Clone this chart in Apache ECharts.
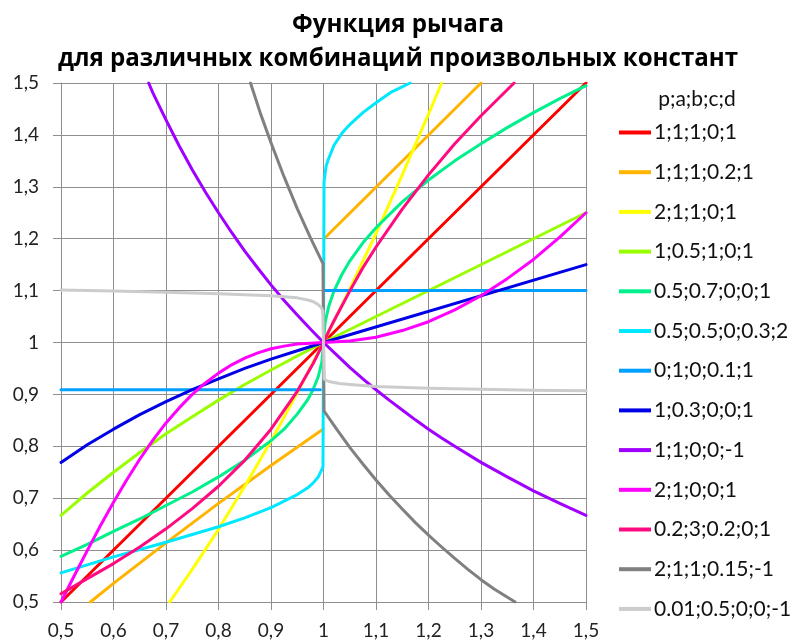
<!DOCTYPE html>
<html><head><meta charset="utf-8">
<script src="https://cdn.jsdelivr.net/npm/echarts@6/dist/echarts.min.js"></script>
<style>html,body{margin:0;padding:0;background:#fff}#c{width:796px;height:644px}</style>
</head><body><div id="c"></div>
<script>
const titleText = 'Функция рычага\nдля различных комбинаций произвольных констант';
const legendTitle = 'p;a;b;c;d';
const axisMin = 0.5, axisMax = 1.5, axisStep = 0.1;

const seriesNames = ['1;1;1;0;1','1;1;1;0.2;1','2;1;1;0;1','1;0.5;1;0;1','0.5;0.7;0;0;1','0.5;0.5;0;0.3;2','0;1;0;0.1;1','1;0.3;0;0;1','1;1;0;0;-1','2;1;0;0;1','0.2;3;0.2;0;1','2;1;1;0.15;-1','0.01;0.5;0;0;-1'];
const seriesColors = ['#FF0000','#FFB400','#FFFF00','#99FF00','#00F08C','#00E8FF','#00A0FF','#0000E6','#A000FF','#FF00FF','#FF0A80','#808080','#CCCCCC'];

const red = [[0.5,0.5],[1,1],[1.5,1.5]];
const orange = [[0.556,0.5],[0.6,0.536],[0.7,0.614],[0.8,0.69],[0.9,0.763],[0.999,0.833],[1,null],[1.001,1.2],[1.3,1.5]];
const yellow = [[0.707,0.5],[0.75,0.563],[0.8,0.64],[0.85,0.723],[0.9,0.81],[0.95,0.903],[1,1],[1.05,1.103],[1.1,1.21],[1.15,1.323],[1.2,1.44],[1.225,1.5]];
const lime = [[0.5,0.667],[0.55,0.71],[0.6,0.75],[0.65,0.788],[0.7,0.824],[0.75,0.857],[0.8,0.889],[0.85,0.919],[0.9,0.947],[0.95,0.974],[1,1],[1.5,1.25]];
const spring = [[0.5,0.588],[0.55,0.611],[0.6,0.636],[0.65,0.66],[0.7,0.686],[0.75,0.712],[0.8,0.741],[0.85,0.773],[0.9,0.811],[0.925,0.833],[0.95,0.862],[0.97,0.89],[0.98,0.909],[0.99,0.934],[0.997,0.963],[1,1],[1.003,1.038],[1.01,1.07],[1.02,1.099],[1.035,1.131],[1.05,1.157],[1.075,1.192],[1.1,1.221],[1.15,1.271],[1.2,1.313],[1.25,1.35],[1.3,1.383],[1.35,1.414],[1.4,1.443],[1.45,1.47],[1.5,1.495]];
const cyan = [[0.5,0.556],[0.6,0.587],[0.7,0.615],[0.8,0.645],[0.85,0.662],[0.9,0.682],[0.95,0.707],[0.97,0.72],[0.98,0.729],[0.99,0.741],[0.999,0.76],[1,1],[1.001,1.31],[1.005,1.34],[1.01,1.355],[1.02,1.38],[1.035,1.403],[1.05,1.42],[1.075,1.443],[1.1,1.462],[1.13,1.483],[1.165,1.5]];
const skyblue = [[0.5,0.909],[0.994,0.909],[1,null],[1.001,1.1],[1.5,1.1]];
const blue = [[0.5,0.769],[0.55,0.803],[0.6,0.833],[0.65,0.861],[0.7,0.886],[0.75,0.909],[0.8,0.93],[0.85,0.95],[0.9,0.968],[0.95,0.984],[1,1],[1.5,1.15]];
const purple = [[0.667,1.5],[0.675,1.481],[0.7,1.429],[0.725,1.379],[0.75,1.333],[0.775,1.29],[0.8,1.25],[0.825,1.212],[0.85,1.176],[0.875,1.143],[0.9,1.111],[0.925,1.081],[0.95,1.053],[0.975,1.026],[1,1],[1.025,0.976],[1.05,0.952],[1.075,0.93],[1.1,0.909],[1.125,0.889],[1.15,0.87],[1.175,0.851],[1.2,0.833],[1.225,0.816],[1.25,0.8],[1.3,0.769],[1.35,0.741],[1.4,0.714],[1.45,0.69],[1.5,0.667]];
const magenta = [[0.5,0.5],[0.525,0.55],[0.55,0.599],[0.575,0.647],[0.6,0.692],[0.625,0.735],[0.65,0.775],[0.675,0.812],[0.7,0.845],[0.725,0.874],[0.75,0.9],[0.775,0.922],[0.8,0.941],[0.825,0.957],[0.85,0.97],[0.875,0.98],[0.9,0.988],[0.925,0.993],[0.95,0.997],[1,1],[1.05,1.003],[1.1,1.01],[1.15,1.023],[1.2,1.04],[1.25,1.063],[1.3,1.09],[1.35,1.123],[1.4,1.16],[1.45,1.203],[1.5,1.25]];
const pink = [[0.5,0.516],[0.55,0.545],[0.6,0.574],[0.65,0.606],[0.7,0.641],[0.75,0.68],[0.8,0.723],[0.85,0.773],[0.9,0.833],[0.95,0.906],[0.98,0.959],[0.99,0.979],[1,1],[1.01,1.022],[1.02,1.042],[1.05,1.099],[1.075,1.144],[1.1,1.184],[1.15,1.257],[1.2,1.323],[1.25,1.383],[1.3,1.437],[1.35,1.487],[1.363,1.5]];
const gray = [[0.861,1.5],[0.88,1.441],[0.9,1.385],[0.925,1.319],[0.95,1.258],[0.975,1.202],[0.999,1.152],[1.001,0.868],[1.025,0.833],[1.05,0.798],[1.075,0.766],[1.1,0.735],[1.125,0.706],[1.15,0.679],[1.175,0.653],[1.2,0.629],[1.225,0.606],[1.25,0.584],[1.275,0.563],[1.3,0.543],[1.325,0.525],[1.365,0.5]];
const lightgray = [[0.5,1.101],[0.6,1.099],[0.7,1.097],[0.8,1.094],[0.9,1.09],[0.95,1.086],[0.97,1.082],[0.98,1.079],[0.99,1.073],[0.996,1.067],[0.999,1.06],[1.001,0.93],[1.005,0.927],[1.01,0.925],[1.03,0.921],[1.05,0.919],[1.1,0.915],[1.2,0.912],[1.3,0.91],[1.4,0.908],[1.5,0.907]];

const allData = [red, orange, yellow, lime, spring, cyan, skyblue, blue, purple, magenta, pink, gray, lightgray];

const fmt = v => String(+(+v).toFixed(1)).replace('.', ',');
const gridColor = '#8E8E8E';
const labelFont = 'Lato, "Open Sans", sans-serif';

const chart = echarts.init(document.getElementById('c'), null, {renderer: 'canvas'});
chart.setOption({
  animation: false,
  backgroundColor: '#fff',
  title: {
    text: titleText,
    left: 'center',
    top: 3,
    textStyle: {fontFamily: '"Open Sans", "Noto Sans", sans-serif', fontWeight: 'bold', fontSize: 24.1, lineHeight: 34, color: '#000'}
  },
  graphic: [{
    type: 'text', x: 697, y: 99,
    style: {text: legendTitle, fill: '#111', font: '21px ' + labelFont, textAlign: 'center', textVerticalAlign: 'middle'}
  }],
  legend: {
    orient: 'vertical', left: 619, top: 122, padding: 0,
    itemWidth: 32, itemHeight: 4, itemGap: 18.7, icon: 'rect',
    textStyle: {fontFamily: labelFont, fontSize: 21, color: '#111', lineHeight: 20, padding: [0, 0, 0, -2]},
    data: seriesNames
  },
  grid: {left: 61, right: 210, top: 83, bottom: 42, containLabel: false},
  xAxis: {
    type: 'value', min: axisMin, max: axisMax, interval: axisStep,
    axisLine: {show: true, lineStyle: {color: gridColor, width: 1}},
    axisTick: {show: true, length: 8, lineStyle: {color: gridColor}},
    splitLine: {show: true, lineStyle: {color: gridColor, width: 1}},
    axisLabel: {formatter: fmt, fontFamily: labelFont, fontSize: 19, color: '#222', margin: 19}
  },
  yAxis: {
    type: 'value', min: axisMin, max: axisMax, interval: axisStep,
    axisLine: {show: true, lineStyle: {color: gridColor, width: 1}},
    axisTick: {show: true, length: 8, lineStyle: {color: gridColor}},
    splitLine: {show: true, lineStyle: {color: gridColor, width: 1}},
    axisLabel: {formatter: fmt, fontFamily: labelFont, fontSize: 19, color: '#222', margin: 22}
  },
  series: allData.map((d, i) => ({
    name: seriesNames[i],
    type: 'line',
    data: d,
    showSymbol: false,
    symbol: 'none',
    smooth: false,
    connectNulls: false,
    clip: true,
    lineStyle: {color: seriesColors[i], width: 3, join: 'round', cap: 'round'},
    itemStyle: {color: seriesColors[i]},
    emphasis: {disabled: true}
  }))
});
</script>
</body></html>
